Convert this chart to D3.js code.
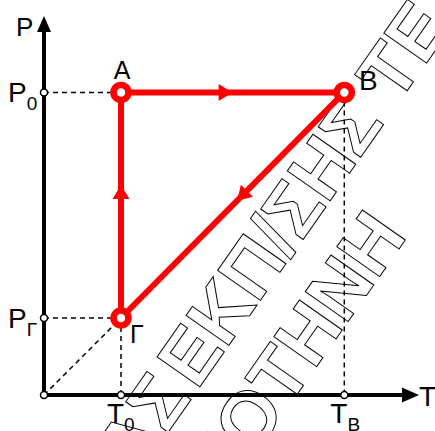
<!DOCTYPE html>
<html>
<head>
<meta charset="utf-8">
<script src="https://cdn.jsdelivr.net/npm/d3@7"></script>
<style>
  body { margin: 0; background: #fff; }
  text { font-family: "Liberation Sans", Arial, sans-serif; }
</style>
</head>
<body>
<script>
// states of the cycle
var states = ['A', 'B', 'Γ'];
var stateT = [1, 3.9, 1];
var stateP = [3.93, 3.93, 1];

// order of the cycle and where the arrow sits on each leg
var cycle = [[0, 1], [1, 2], [2, 0]];
var arrowAt = [0.5, 0.48, 0.59];

// tick marks on the axes
var pTicks = [3.93, 1];
var pTickNames = [['P', '0'], ['P', 'Γ']];
var tTicks = [1, 3.9];
var tTickNames = [['T', '0'], ['T', 'B']];

var width = 435, height = 431;

var svg = d3.select('body').append('svg')
  .attr('width', width)
  .attr('height', height);

var x = d3.scaleLinear().domain([0, 1]).range([44, 121]);
var y = d3.scaleLinear().domain([0, 1]).range([395, 318]);

// watermark behind everything
var wm = svg.append('g')
  .attr('transform', 'translate(197,391) rotate(-55)')
  .style('font-size', '76px')
  .style('font-weight', 'bold')
  .attr('fill', '#fff')
  .attr('stroke', '#000')
  .attr('stroke-width', 1);
wm.append('text').attr('x', 0).attr('y', 0).text('ΕΚΠ/ΣΗΣ ΤΕ');
wm.append('text').attr('x', -8).attr('y', 0).attr('text-anchor', 'end').text('ΙΑΣ');
wm.append('text').attr('x', -22).attr('y', 84).text('ΟΤΗΝΗ');
wm.append('text').attr('x', -22).attr('y', 84).attr('text-anchor', 'end').text('ΚΑΙ ');

// axes
var x0 = x(0), y0 = y(0);
svg.append('line')
  .attr('x1', x0).attr('y1', y0).attr('x2', 405).attr('y2', y0)
  .attr('stroke', '#000').attr('stroke-width', 4);
svg.append('path')
  .attr('d', 'M419,' + y0 + 'L402,' + (y0 - 7.5) + 'L402,' + (y0 + 7.5) + 'Z')
  .attr('fill', '#000');
svg.append('line')
  .attr('x1', x0).attr('y1', y0).attr('x2', x0).attr('y2', 30)
  .attr('stroke', '#000').attr('stroke-width', 4);
svg.append('path')
  .attr('d', 'M' + x0 + ',16L' + (x0 - 7) + ',32L' + (x0 + 7) + ',32Z')
  .attr('fill', '#000');

svg.append('text').attr('x', 16).attr('y', 36).style('font-size', '26px').text('P');
svg.append('text').attr('x', 419).attr('y', 406).style('font-size', '28px').text('T');

// dashed guides
var dash = svg.append('g')
  .attr('stroke', '#000')
  .attr('stroke-width', 1.5)
  .attr('stroke-dasharray', '5,4')
  .attr('fill', 'none');
dash.append('line').attr('x1', x0).attr('y1', y(stateP[0])).attr('x2', x(stateT[0])).attr('y2', y(stateP[0]));
dash.append('line').attr('x1', x0).attr('y1', y(stateP[2])).attr('x2', x(stateT[2])).attr('y2', y(stateP[2]));
dash.append('line').attr('x1', x(stateT[2])).attr('y1', y(stateP[2])).attr('x2', x(stateT[2])).attr('y2', y0);
dash.append('line').attr('x1', x0).attr('y1', y0).attr('x2', x(stateT[2])).attr('y2', y(stateP[2]));
dash.append('line').attr('x1', x(stateT[1])).attr('y1', y(stateP[1])).attr('x2', x(stateT[1])).attr('y2', y0);

// small tick circles
var ticks = [[0, 0]]
  .concat(pTicks.map(function(p) { return [0, p]; }))
  .concat(tTicks.map(function(t) { return [t, 0]; }));
svg.selectAll('.tick-dot')
  .data(ticks)
  .enter().append('circle')
  .attr('class', 'tick-dot')
  .attr('cx', function(d) { return x(d[0]); })
  .attr('cy', function(d) { return y(d[1]); })
  .attr('r', 3.5)
  .attr('fill', '#fff')
  .attr('stroke', '#000')
  .attr('stroke-width', 1.5);

// tick labels with subscripts
pTicks.forEach(function(p, i) {
  var t = svg.append('text').attr('x', 8).attr('y', y(p) + 10).style('font-size', '28px');
  t.append('tspan').text(pTickNames[i][0]);
  t.append('tspan').attr('dy', 8).style('font-size', '19px').text(pTickNames[i][1]);
});
tTicks.forEach(function(tv, i) {
  var t = svg.append('text').attr('x', x(tv) - 14).attr('y', y0 + 28).style('font-size', '28px');
  t.append('tspan').text(tTickNames[i][0]);
  t.append('tspan').attr('dy', 8).style('font-size', '19px').text(tTickNames[i][1]);
});

// the cycle
var red = '#ff0000';
cycle.forEach(function(c, i) {
  var ax = x(stateT[c[0]]), ay = y(stateP[c[0]]);
  var bx = x(stateT[c[1]]), by = y(stateP[c[1]]);
  svg.append('line')
    .attr('x1', ax).attr('y1', ay).attr('x2', bx).attr('y2', by)
    .attr('stroke', red).attr('stroke-width', 6);
  var tx = ax + (bx - ax) * arrowAt[i], ty = ay + (by - ay) * arrowAt[i];
  var ang = Math.atan2(by - ay, bx - ax) * 180 / Math.PI;
  svg.append('path')
    .attr('d', 'M0,0L-14,-8.5L-14,8.5Z')
    .attr('transform', 'translate(' + tx + ',' + ty + ') rotate(' + ang + ')')
    .attr('fill', red);
});

svg.selectAll('.state')
  .data(states)
  .enter().append('circle')
  .attr('class', 'state')
  .attr('cx', function(d, i) { return x(stateT[i]); })
  .attr('cy', function(d, i) { return y(stateP[i]); })
  .attr('r', 7.5)
  .attr('fill', '#fff')
  .attr('stroke', red)
  .attr('stroke-width', 6.5);

// state names
var nameDx = [1, 24, 16];
var nameDy = [-13, -2, 25];
svg.selectAll('.state-name')
  .data(states)
  .enter().append('text')
  .attr('class', 'state-name')
  .attr('x', function(d, i) { return x(stateT[i]) + nameDx[i]; })
  .attr('y', function(d, i) { return y(stateP[i]) + nameDy[i]; })
  .attr('text-anchor', 'middle')
  .style('font-size', function(d, i) { return i === 1 ? '28px' : '25px'; })
  .text(function(d) { return d; });
</script>
</body>
</html>
